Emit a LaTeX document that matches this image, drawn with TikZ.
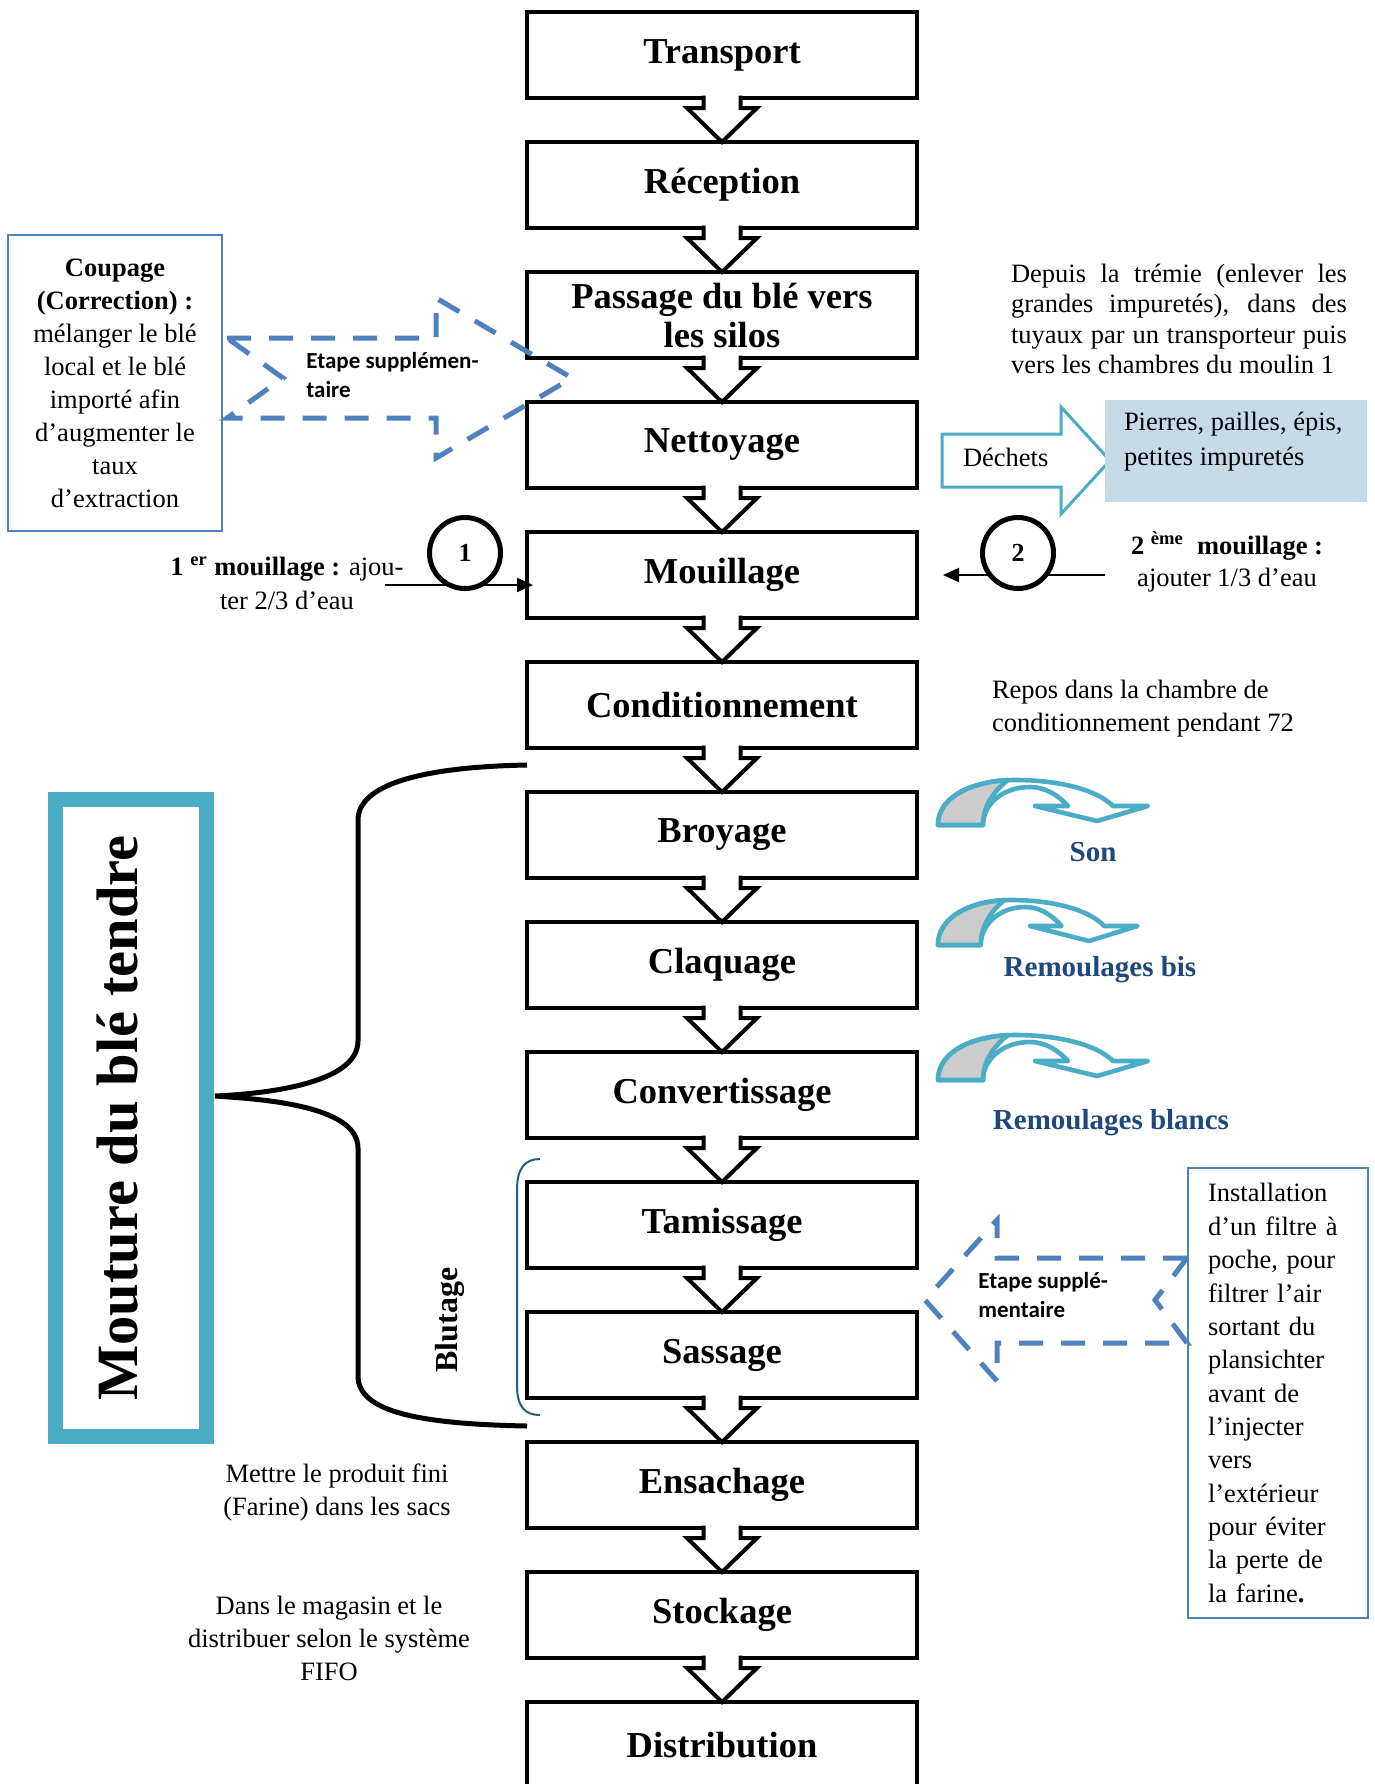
\documentclass[tikz,border=0pt]{standalone}
\usepackage{fontspec}
\setmainfont{Liberation Serif}
\newfontfamily\calibrifont{Carlito}
\usetikzlibrary{calc,arrows.meta}

\definecolor{dashblue}{RGB}{79,129,189}
\definecolor{tealc}{RGB}{75,172,198}
\definecolor{paleblue}{RGB}{198,219,232}
\definecolor{navytext}{RGB}{31,73,125}
\definecolor{bracketc}{RGB}{37,96,117}
\definecolor{greyfill}{RGB}{204,204,204}

\tikzset{
  stepbox/.style={draw, line width=2.3pt, minimum width=195pt, minimum height=43pt,
    inner sep=0pt, outer sep=0pt, align=center,
    font=\fontsize{18.25pt}{19.5pt}\selectfont\bfseries},
  flowarr/.style={fill=white, draw=black, line width=2pt, line join=miter},
  bodytext/.style={inner sep=0pt, outer sep=0pt, font=\fontsize{13.25pt}{16.5pt}\selectfont},
  etapearrow/.style={draw=dashblue, line width=2.5pt, dash pattern=on 12pt off 9pt},
  etapetxt/.style={inner sep=0pt, align=left,
    font=\calibrifont\bfseries\fontsize{11.5pt}{14.5pt}\selectfont},
  wastelabel/.style={inner sep=0pt, text=navytext,
    font=\fontsize{14.5pt}{15pt}\selectfont\bfseries},
  bandline/.style={draw=tealc, line width=2.3pt, line join=round},
  thinarrow/.style={line width=1pt, -{Triangle[length=8pt,width=7pt]}},
  stepcircle/.style={circle, draw, fill=white, line width=2.5pt, minimum size=35.5pt,
    inner sep=0pt, font=\fontsize{13pt}{13pt}\selectfont\bfseries}
}

% block arrow between two consecutive steps
\newcommand{\flowstep}[2]{%
  \filldraw[flowarr] ($(#1.south)+(-18.5,-2.5)$) -- ($(#1.south)+(-18.5,10)$)
    -- ($(#1.south)+(-35,10)$) -- (#2.north) -- ($(#1.south)+(35,10)$)
    -- ($(#1.south)+(18.5,10)$) -- ($(#1.south)+(18.5,-2.5)$);}

% curved by-product arrow (band with shaded back leg)
\newcommand{\curvedout}[1]{%
  \begin{scope}[#1]
    \filldraw[fill=white, bandline]
      (938,825) .. controls (938,797) and (972,780) .. (1015,780)
      .. controls (1060,780) and (1097,790) .. (1113,806)
      -- (1148,806) -- (1097,821) -- (1035,806) -- (1068,806)
      .. controls (1058,795) and (1045,787) .. (1030,787)
      .. controls (1002,787) and (983,805) .. (983,825) -- cycle;
    \filldraw[fill=greyfill, bandline]
      (938,825) .. controls (938,800) and (965,783) .. (1008,780)
      .. controls (995,790) and (983,805) .. (983,825) -- cycle;
  \end{scope}}

\tolerance=10000
\hbadness=10000

\begin{document}
\begin{tikzpicture}[x=0.5pt, y=-0.5pt]
  \useasboundingbox (0,0) rectangle (1375,1784);
  \fill[white] (0,0) rectangle (1375,1784);

  % main chain of steps
  \node[stepbox] (transport) at (722,55) {Transport};
  \node[stepbox] (reception) at (722,185) {Réception};
  \node[stepbox] (passage) at (722,315) {Passage du blé vers\\les silos};
  \node[stepbox] (nettoyage) at (722,445) {Nettoyage};
  \node[stepbox] (mouillage) at (722,575) {Mouillage};
  \node[stepbox] (condit) at (722,705) {Conditionnement};
  \node[stepbox] (broyage) at (722,835) {Broyage};
  \node[stepbox] (claquage) at (722,965) {Claquage};
  \node[stepbox] (convert) at (722,1095) {Convertissage};
  \node[stepbox] (tamis) at (722,1225) {Tamissage};
  \node[stepbox] (sassage) at (722,1355) {Sassage};
  \node[stepbox] (ensach) at (722,1485) {Ensachage};
  \node[stepbox] (stockage) at (722,1615) {Stockage};
  \node[stepbox] (distrib) at (722,1745) {Distribution};

  \foreach \a/\b in {transport/reception, reception/passage, passage/nettoyage,
      nettoyage/mouillage, mouillage/condit, condit/broyage, broyage/claquage,
      claquage/convert, convert/tamis, tamis/sassage, sassage/ensach,
      ensach/stockage, stockage/distrib}
    \flowstep{\a}{\b};

  % blending step on the left
  \node[bodytext, draw=dashblue, line width=0.8pt, minimum width=107pt, minimum height=148pt,
    align=center] (coupage) at (115,383)
    {\textbf{Coupage}\\\textbf{(Correction) :}\\mélanger le blé\\local et le blé\\importé afin\\d’augmenter le\\taux\\d’extraction};
  \draw[etapearrow] (227,338) -- (436,338) -- (436,298) -- (572,378) -- (436,458)
    -- (436,418) -- (227,418) -- (283,378) -- cycle;
  \node[etapetxt, anchor=west] (etape1) at (306,375) {Etape supplémen-\\taire};

  % notes on the right of the cleaning steps
  \node[bodytext, text width=168pt, align=justify,
    font=\fontsize{13.25pt}{15.25pt}\selectfont] (depuis) at (1179,319)
    {Depuis la trémie (enlever les\linebreak grandes impuretés), dans des\linebreak tuyaux par un transporteur puis\linebreak vers les chambres du moulin 1};

  \filldraw[fill=white, draw=tealc, line width=1.5pt] (942,434) -- (1061,434) -- (1061,407)
    -- (1110,460.5) -- (1061,514) -- (1061,487) -- (942,487) -- cycle;
  \node[bodytext, anchor=west] (dechets) at (963,457) {Déchets};
  \node[fill=paleblue, minimum width=131pt, minimum height=51pt, inner sep=0pt] (impur) at (1236,451) {};
  \node[bodytext, anchor=west, align=left, font=\fontsize{13.25pt}{17.5pt}\selectfont]
    (impurtxt) at (1124,442) {Pierres, pailles, épis,\\petites impuretés};

  % the two wetting inputs
  \coordinate (w1) at (385,585);
  \draw[thinarrow] (w1) -- ($(w1 -| mouillage.west)+(6,0)$);
  \coordinate (e2) at (1105,575);
  \coordinate (e2tip) at (943,575);
  \draw[thinarrow] (e2) -- (e2tip);
  \node[stepcircle] (c1) at (465,553) {1};
  \node[stepcircle] (c2) at (1018,553) {2};
  \node[bodytext, align=center, font=\fontsize{13.25pt}{17pt}\selectfont] (m1) at (287,583)
    {\textbf{1 \textsuperscript{er} mouillage :} ajou-\\ter 2/3 d’eau};
  \node[bodytext, align=center, font=\fontsize{13.25pt}{16pt}\selectfont] (m2) at (1227,562)
    {\textbf{2 \textsuperscript{ème}\ \ mouillage :}\\ajouter 1/3 d’eau};

  \node[bodytext, anchor=west, align=left] (repos) at (992,709)
    {Repos dans la chambre de\\conditionnement pendant 72};

  % by-products of milling
  \curvedout{}
  \curvedout{shift={(938,120)}, xscale=0.95, shift={(-938,0)}}
  \curvedout{shift={(0,255)}}
  \node[wastelabel] (son) at (1093,852) {Son};
  \node[wastelabel] (rbis) at (1100,970) {Remoulages bis};
  \node[wastelabel] (rblancs) at (1111,1123) {Remoulages blancs};

  % milling group
  \node[draw=tealc, line width=7.5pt, rotate=90, minimum width=318.5pt, minimum height=75.5pt,
    inner sep=0pt, text height=20.5pt, text depth=14pt,
    font=\fontsize{29.25pt}{30pt}\selectfont\bfseries] (mouture) at (131,1118) {Mouture du blé tendre};
  \coordinate (bracetop) at (527,765);
  \coordinate (bracetip) at (215,1096);
  \coordinate (bracebot) at (527,1426);
  \draw[line width=2.5pt] (bracetop) .. controls (420,767) and (358,785) .. (358,820)
    -- (358,1041) .. controls (358,1085) and (260,1094) .. (bracetip)
    .. controls (260,1099) and (358,1105) .. (358,1148)
    -- (358,1376) .. controls (358,1412) and (420,1424) .. (bracebot);

  % sifting group
  \draw[bracketc, line width=1pt] (540,1159) .. controls (525,1159) and (517,1168) .. (517,1190)
    -- (517,1385) .. controls (517,1407) and (525,1415) .. (540,1415);
  \node[rotate=90, inner sep=0pt, font=\fontsize{16pt}{16pt}\selectfont\bfseries] (blutage)
    at (450,1320) {Blutage};

  % dust filter
  \node[bodytext, draw=dashblue, line width=0.8pt, text width=70pt, inner xsep=10pt,
    minimum height=225pt, align=left, font=\fontsize{13.25pt}{16.67pt}\selectfont]
    (filtre) at (1278,1393)
    {Installation\\d’un filtre à\\poche, pour\\filtrer l’air\\sortant du\\plansichter\\avant de\\l’injecter\\vers\\l’extérieur\\pour éviter\\la perte de\\la farine\textbf{.}};
  \draw[etapearrow] (1187,1258) -- (997,1258) -- (997,1220) -- (925,1300) -- (997,1381)
    -- (997,1343) -- (1187,1343) -- (1155,1300) -- cycle;
  \node[etapetxt, anchor=west] (etape2) at (978,1295) {Etape supplé-\\mentaire};

  % packing and storage notes
  \node[bodytext, align=center] (mettre) at (337,1492) {Mettre le produit fini\\(Farine) dans les sacs};
  \node[bodytext, align=center] (dans) at (329,1638) {Dans le magasin et le\\distribuer selon le système\\FIFO};
\end{tikzpicture}
\end{document}
